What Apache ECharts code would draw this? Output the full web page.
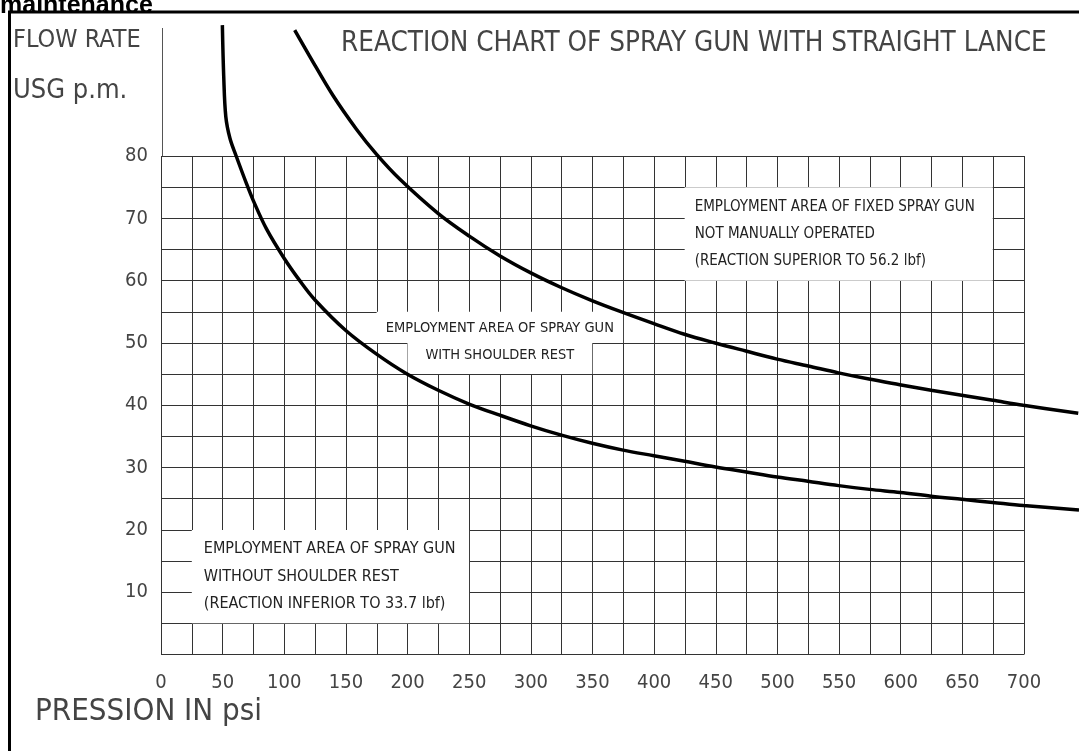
<!DOCTYPE html>
<html>
<head>
<meta charset="utf-8">
<script src="https://cdn.jsdelivr.net/npm/echarts@6/dist/echarts.min.js"></script>
<style>
html, body { margin: 0; padding: 0; background: #fff; }
#chart { width: 1079px; height: 751px; }
</style>
</head>
<body>
<div id="chart"></div>
<script>
const narrow = '"Liberation Sans Narrow", "DejaVu Sans Condensed", sans-serif'

// reaction 33.7 lbf curve (pression psi / flow USG p.m.)
const lowPsi = [49.8, 50.9, 52.6, 56, 61, 69.3, 75, 85.6, 99.9, 112.6, 125, 150, 175, 199, 225, 250, 275, 300, 325, 350, 375, 400, 425, 450, 475, 500, 525, 550, 575, 600, 625, 650, 675, 700, 745]
const lowFlow = [101, 92.8, 86.3, 82.8, 80, 75.6, 72.8, 68.3, 63.6, 60.0, 56.9, 52.0, 48.2, 45.1, 42.4, 40.2, 38.4, 36.7, 35.2, 33.9, 32.8, 31.9, 31.0, 30.1, 29.3, 28.5, 27.8, 27.1, 26.5, 26.0, 25.4, 24.9, 24.4, 23.9, 23.2]

// reaction 56.2 lbf curve
const highPsi = [108.5, 120.7, 139.6, 158.6, 174.8, 193.7, 224.8, 250.5, 274.8, 300.5, 324.8, 349.7, 374.8, 400, 424.8, 449.7, 474.6, 500, 525.2, 549.8, 574.6, 599.5, 625, 649.8, 675, 699.8, 744.4]
const highFlow = [100.2, 96.0, 89.7, 84.3, 80.3, 76.3, 70.8, 67.1, 64.0, 61.2, 58.9, 56.8, 54.9, 53.1, 51.4, 50.0, 48.7, 47.4, 46.3, 45.2, 44.2, 43.3, 42.4, 41.6, 40.8, 40.0, 38.7]

// employment areas [psiFrom, flowFrom, psiTo, flowTo]
const areaWithout = [25, 5, 250, 20]
const areaShoulderTop = [175, 50, 375, 55]
const areaShoulderBottom = [200, 45, 350, 50]
const areaFixed = [425, 60, 675, 75]

const xMax = 700
const yMax = 80

const pair = (xs, ys) => xs.map((x, i) => [x, ys[i]])

const gridLine = { color: '#333', width: 1 }
const boxLabel = { color: '#222', fontFamily: narrow, lineHeight: 27.5 }

function area(a, text, label) {
  return [
    { coord: [a[0], a[1]], label: Object.assign({ show: true, formatter: text }, boxLabel, label) },
    { coord: [a[2], a[3]] },
  ]
}

const chart = echarts.init(document.getElementById('chart'))
chart.setOption({
  animation: false,
  grid: [
    { left: 161, top: 156, width: 863, height: 498.5 },
    // same scale, stretched so the curves can run past the grid
    { left: 161, top: 654.5 - 102 * 6.23125, width: 745 * 863 / 700, height: 102 * 6.23125 },
  ],
  xAxis: [
    {
      gridIndex: 0, type: 'value', min: 0, max: xMax, interval: 50,
      axisLine: { show: false },
      axisTick: { show: false },
      axisLabel: { color: '#444', fontFamily: narrow, fontSize: 20, margin: 18 },
      splitLine: { show: true, lineStyle: gridLine },
      minorTick: { show: false, splitNumber: 2 },
      minorSplitLine: { show: true, lineStyle: gridLine },
    },
    { gridIndex: 1, type: 'value', min: 0, max: 745, show: false },
  ],
  yAxis: [
    {
      gridIndex: 0, type: 'value', min: 0, max: yMax, interval: 10,
      axisLine: { show: false },
      axisTick: { show: false },
      axisLabel: {
        color: '#444', fontFamily: narrow, fontSize: 20, margin: 13,
        formatter: (v) => (v === 0 ? '' : v),
      },
      splitLine: { show: true, lineStyle: gridLine },
      minorTick: { show: false, splitNumber: 2 },
      minorSplitLine: { show: true, lineStyle: gridLine },
    },
    { gridIndex: 1, type: 'value', min: 0, max: 102, show: false },
  ],
  series: [
    {
      name: 'areas',
      type: 'line',
      xAxisIndex: 1,
      yAxisIndex: 1,
      data: [],
      z: 1,
      markArea: {
        silent: true,
        itemStyle: { color: '#fff' },
        data: [
          area(areaWithout, 'EMPLOYMENT AREA OF SPRAY GUN\nWITHOUT SHOULDER REST\n(REACTION INFERIOR TO 33.7 lbf)',
            { position: 'insideLeft', distance: 12, fontSize: 16 }),
          area(areaShoulderTop, 'EMPLOYMENT AREA OF SPRAY GUN', { position: 'inside', fontSize: 14.5, offset: [0, 1] }),
          area(areaShoulderBottom, 'WITH SHOULDER REST', { position: 'inside', fontSize: 14.5, offset: [0, -3] }),
          area(areaFixed, 'EMPLOYMENT AREA OF FIXED SPRAY GUN\nNOT MANUALLY OPERATED\n(REACTION SUPERIOR TO 56.2 lbf)',
            { position: 'insideLeft', distance: 10, fontSize: 15, lineHeight: 27 }),
        ],
      },
    },
    {
      name: '33.7 lbf',
      type: 'line',
      xAxisIndex: 1,
      yAxisIndex: 1,
      data: pair(lowPsi, lowFlow),
      smooth: 0.35,
      showSymbol: false,
      z: 5,
      lineStyle: { color: '#000', width: 3.5 },
    },
    {
      name: '56.2 lbf',
      type: 'line',
      xAxisIndex: 1,
      yAxisIndex: 1,
      data: pair(highPsi, highFlow),
      smooth: 0.35,
      showSymbol: false,
      z: 5,
      lineStyle: { color: '#000', width: 3.5 },
    },
  ],
  graphic: [
    { type: 'line', shape: { x1: 9.5, y1: 11, x2: 9.5, y2: 751 }, style: { stroke: '#000', lineWidth: 3 } },
    { type: 'line', shape: { x1: 8, y1: 12, x2: 1079, y2: 12 }, style: { stroke: '#000', lineWidth: 3 } },
    { type: 'line', shape: { x1: 162.5, y1: 28, x2: 162.5, y2: 156 }, style: { stroke: '#555', lineWidth: 1 } },
    {
      type: 'text', x: 0, y: 6,
      style: { text: 'maintenance', font: 'bold 25px "Liberation Sans", Arial, sans-serif', fill: '#000', verticalAlign: 'middle' },
    },
    {
      type: 'text', x: 341, y: 44,
      style: { text: 'REACTION CHART OF SPRAY GUN WITH STRAIGHT LANCE', fontFamily: narrow, fontSize: 27.6, fill: '#444', verticalAlign: 'middle' },
    },
    {
      type: 'text', x: 13, y: 40,
      style: { text: 'FLOW RATE', fontFamily: narrow, fontSize: 25, fill: '#444', verticalAlign: 'middle' },
    },
    {
      type: 'text', x: 13, y: 91,
      style: { text: 'USG p.m.', fontFamily: narrow, fontSize: 27, fill: '#444', verticalAlign: 'middle' },
    },
    {
      type: 'text', x: 35, y: 712,
      style: { text: 'PRESSION IN psi', fontFamily: narrow, fontSize: 31, fill: '#444', verticalAlign: 'middle' },
    },
  ],
})
</script>
</body>
</html>
